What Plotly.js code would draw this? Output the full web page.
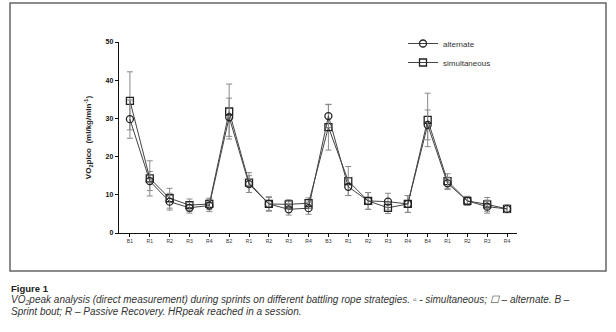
<!DOCTYPE html>
<html><head><meta charset="utf-8">
<script src="https://cdn.plot.ly/plotly-3.0.1.min.js"></script>
<style>html,body{margin:0;padding:0;background:#fff;}#chart{width:616px;height:332px;}</style>
</head><body><div id="chart"></div>
<script>
const labels = ["B1","R1","R2","R3","R4","B2","R1","R2","R3","R4","B3","R1","R2","R3","R4","B4","R1","R2","R3","R4"];
const alternate = [29.8,13.6,8.2,6.6,7.2,30.3,12.8,7.6,6.2,6.5,30.6,12.1,8.4,8.2,7.6,28.3,13.0,8.4,6.9,6.3];
const alternateSD = [5.0,2.5,2.2,1.4,1.6,5.0,2.2,1.7,1.5,1.6,3.0,2.3,2.2,2.2,2.2,3.9,1.6,1.2,1.7,0.9];
const simultaneous = [34.6,14.3,9.1,7.3,7.6,31.8,13.2,7.6,7.5,7.8,27.7,13.6,8.4,6.6,7.6,29.6,13.6,8.4,7.5,6.3];
const simultaneousSD = [7.6,4.6,2.6,1.6,1.5,7.2,2.6,1.9,1.2,1.4,6.0,3.8,2.2,1.5,2.2,7.0,1.9,1.1,1.8,1.0];

const xs = labels.map((_, i) => i);
const lineCol = '#444';
const errCol = '#8a8a8a';

const traces = [
  {x: xs, y: simultaneous, name: 'simultaneous', type: 'scatter', mode: 'lines+markers',
   line: {color: lineCol, width: 1},
   marker: {symbol: 'square-open', size: 7, color: '#222', line: {width: 1.3}},
   error_y: {type: 'data', array: simultaneousSD, visible: true, color: errCol, thickness: 1, width: 3}},
  {x: xs, y: alternate, name: 'alternate', type: 'scatter', mode: 'lines+markers',
   line: {color: lineCol, width: 1},
   marker: {symbol: 'circle-open', size: 7, color: '#222', line: {width: 1.3}},
   error_y: {type: 'data', array: alternateSD, visible: true, color: errCol, thickness: 1, width: 3}}
];

const W = 398, H = 191;
const px = v => (v - 119) / W;
const py = v => (233 - v) / H;

const layout = {
  width: 616, height: 332,
  margin: {l: 119, r: 99, t: 42, b: 99},
  paper_bgcolor: '#fff', plot_bgcolor: '#fff',
  showlegend: true,
  legend: {x: px(403), y: py(29), xanchor: 'left', yanchor: 'top', traceorder: 'reversed',
           font: {family: 'Liberation Sans, Arial', size: 8, color: '#333'},
           bgcolor: 'rgba(0,0,0,0)', itemwidth: 30, tracegroupgap: 0},
  xaxis: {range: [-0.55, 19.5], tickmode: 'array', tickvals: xs, ticktext: labels,
          showgrid: false, zeroline: false, showline: true, linecolor: '#111', linewidth: 1.2,
          ticks: 'outside', ticklen: 3, tickcolor: '#111',
          tickfont: {family: 'Liberation Sans, Arial', size: 5, color: '#333'}},
  yaxis: {range: [0, 50], tickvals: [0,10,20,30,40,50], showgrid: false, zeroline: false,
          showline: true, linecolor: '#111', linewidth: 1.2,
          ticks: 'outside', ticklen: 3, tickcolor: '#111',
          tickfont: {family: 'Liberation Sans, Arial', size: 7, color: '#111', weight: 'bold'},
          title: {text: '<b>VO<sub>2</sub>pico  (ml/kg/min<sup>-1</sup>)</b>', standoff: 12,
                  font: {family: 'Liberation Sans, Arial', size: 8, color: '#222'}}},
  shapes: [
    {type: 'rect', xref: 'paper', yref: 'paper',
     x0: px(10), x1: px(606), y0: py(271), y1: py(3),
     line: {color: '#666', width: 1.5}, fillcolor: 'rgba(0,0,0,0)'}
  ],
  annotations: [
    {xref: 'paper', yref: 'paper', x: px(9), y: py(288), xanchor: 'left', yanchor: 'middle',
     text: '<b>Figure 1</b>', showarrow: false, font: {family: 'Liberation Sans, Arial', size: 9.5, color: '#222'}},
    {xref: 'paper', yref: 'paper', x: px(9), y: py(300), xanchor: 'left', yanchor: 'middle',
     text: '<i>VO<sub>2</sub>peak analysis (direct measurement) during sprints on different battling rope strategies. ▫ - simultaneous; ☐ – alternate. B –</i>',
     showarrow: false, font: {family: 'Liberation Sans, Arial', size: 10, color: '#333'}},
    {xref: 'paper', yref: 'paper', x: px(9), y: py(311), xanchor: 'left', yanchor: 'middle',
     text: '<i>Sprint bout; R – Passive Recovery. HRpeak reached in a session.</i>',
     showarrow: false, font: {family: 'Liberation Sans, Arial', size: 10, color: '#333'}}
  ]
};

Plotly.newPlot('chart', traces, layout, {displayModeBar: false, staticPlot: true});
</script></body></html>
